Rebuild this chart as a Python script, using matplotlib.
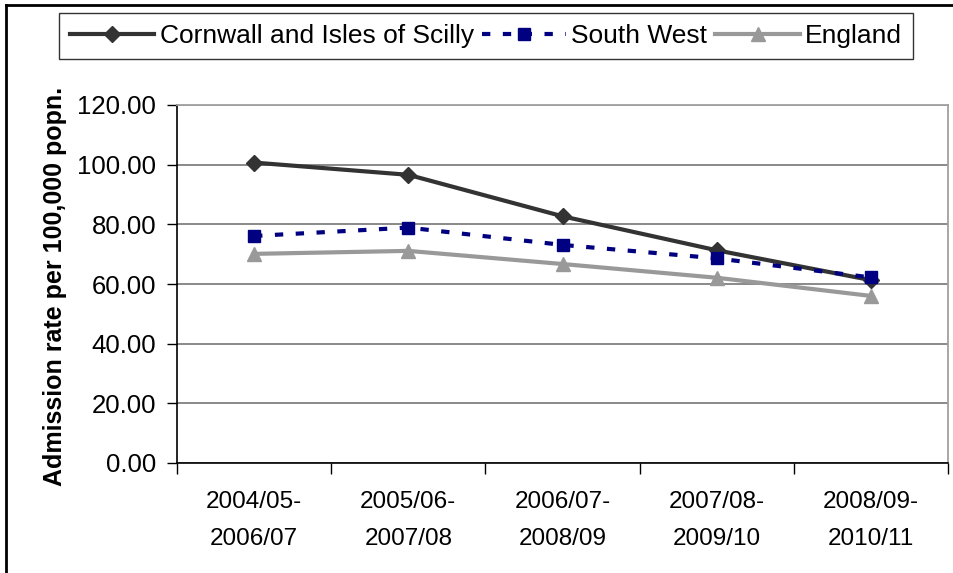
import matplotlib
matplotlib.use("Agg")
import matplotlib.pyplot as plt
from matplotlib.lines import Line2D

categories = ["2004/05-\n2006/07", "2005/06-\n2007/08", "2006/07-\n2008/09",
              "2007/08-\n2009/10", "2008/09-\n2010/11"]
cornwall = [100.7, 96.6, 82.7, 71.3, 61.3]
south_west = [76.1, 78.9, 73.1, 68.6, 62.2]
england = [70.1, 71.1, 66.7, 62.1, 56.0]
yticks = [0, 20, 40, 60, 80, 100, 120]

plt.rcParams['font.family'] = ['Liberation Sans', 'DejaVu Sans']

W, H = 954, 573
fig = plt.figure(figsize=(W / 100, H / 100), dpi=100)
ax = fig.add_axes([177 / W, 1 - 463 / H, (948 - 177) / W, (463 - 105) / H])

x = list(range(len(categories)))
ax.plot(x, cornwall, color="#333333", lw=3, marker="D", ms=8, label="Cornwall and Isles of Scilly", zorder=4)
ax.plot(x, south_west, color="#000080", lw=3, ls=(0, (2, 3)), marker="s", ms=8, label="South West", zorder=5)
ax.plot(x, england, color="#999999", lw=3, marker="^", ms=10, label="England", zorder=3)

ax.set_xlim(-0.5, len(categories) - 0.5)
ax.set_ylim(0, 120)
ax.set_yticks(yticks)
ax.set_yticklabels([f"{v:.2f}" for v in yticks], fontsize=18.5)
ax.set_xticks([i - 0.5 for i in range(len(categories) + 1)])
ax.set_xticklabels([])
ax.set_xticks(x, minor=True)
ax.set_xticklabels(categories, minor=True, fontsize=17.5, linespacing=1.9)
ax.tick_params(axis="x", which="minor", length=0, pad=20)
ax.tick_params(axis="x", which="major", direction="out", length=8, width=1, color="black")
ax.tick_params(axis="y", direction="out", length=7, width=1, color="black", pad=8)

ax.grid(axis="y", color="#808080", lw=1.3)
ax.set_axisbelow(True)
for s in ["top", "right"]:
    ax.spines[s].set_color("#a0a0a0")
    ax.spines[s].set_linewidth(1.3)
for s in ["left", "bottom"]:
    ax.spines[s].set_color("black")
    ax.spines[s].set_linewidth(1.2)

ax.set_ylabel("Admission rate per 100,000 popn.", fontsize=18, fontweight="bold")
ax.yaxis.set_label_coords((67 - 177) / 771, (463 - 286) / 358)

leg = fig.legend(loc="center", bbox_to_anchor=(486 / W, 1 - 36 / H), ncol=3, fontsize=19,
                 frameon=True, fancybox=False, edgecolor="black", handlelength=3.2,
                 handletextpad=0.2, columnspacing=0.3, borderpad=0.4, borderaxespad=0)
leg.get_frame().set_linewidth(1.0)

# figure border
fig.add_artist(Line2D([6 / W, 6 / W], [0, 1 - 5 / H], transform=fig.transFigure, color="black", lw=2))
fig.add_artist(Line2D([6 / W, 1], [1 - 5 / H, 1 - 5 / H], transform=fig.transFigure, color="black", lw=2))

fig.savefig("out.png", dpi=100)
